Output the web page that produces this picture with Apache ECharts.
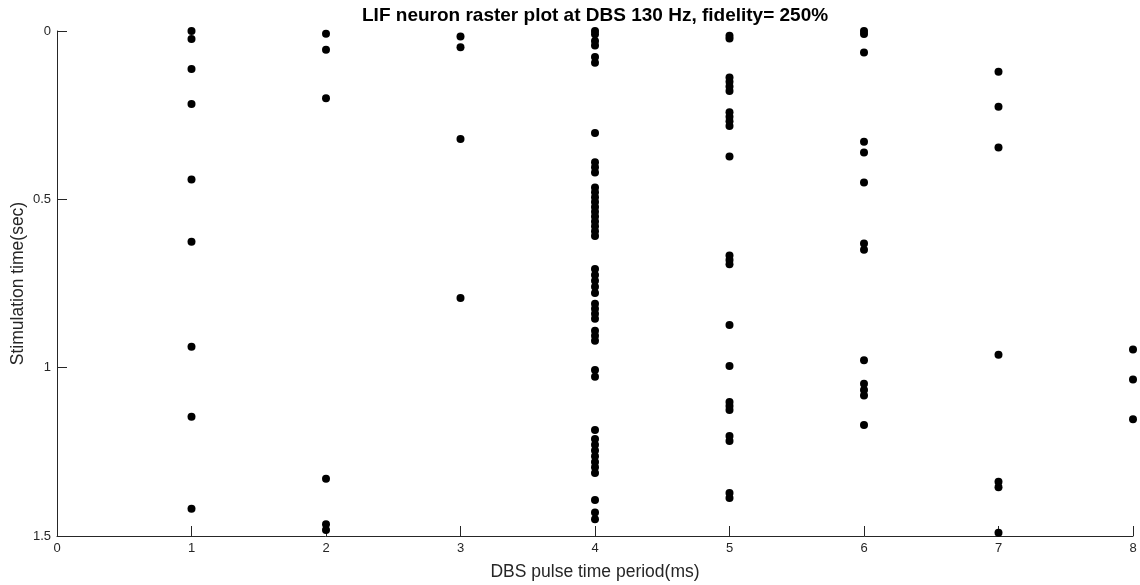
<!DOCTYPE html>
<html>
<head>
<meta charset="utf-8">
<title>LIF neuron raster plot</title>
<script src="https://cdn.jsdelivr.net/npm/echarts@6/dist/echarts.min.js"></script>
<style>
  html, body { margin: 0; padding: 0; background: #fff; }
  #chart { width: 1140px; height: 585px; }
</style>
</head>
<body>
<div id="chart"></div>
<script>
// Spike times (sec) for each DBS pulse time period (ms)
const periods = [1, 2, 3, 4, 5, 6, 7, 8];
const spikes1 = [0.0, 0.024, 0.113, 0.217, 0.441, 0.626, 0.938, 1.146, 1.419];
const spikes2 = [0.008, 0.056, 0.2, 1.33, 1.465, 1.482];
const spikes3 = [0.016, 0.048, 0.321, 0.793];
const spikes4 = [0.0, 0.01, 0.03, 0.043, 0.077, 0.094, 0.303,
  0.39, 0.405, 0.42,
  0.465, 0.479, 0.494, 0.508, 0.523, 0.537, 0.551, 0.566, 0.58, 0.595, 0.609,
  0.707, 0.725, 0.742, 0.76, 0.778,
  0.81, 0.825, 0.84, 0.855,
  0.89, 0.905, 0.92,
  1.007, 1.027, 1.185,
  1.212, 1.229, 1.246, 1.263, 1.28, 1.296, 1.313,
  1.393, 1.43, 1.45];
const spikes5 = [0.014, 0.022, 0.138, 0.151, 0.165, 0.178, 0.241, 0.255, 0.268, 0.282,
  0.373, 0.667, 0.68, 0.693, 0.873, 0.995, 1.102, 1.114, 1.126, 1.203, 1.218, 1.372, 1.387];
const spikes6 = [0.0, 0.009, 0.064, 0.329, 0.361, 0.45, 0.631, 0.65, 0.978, 1.048, 1.066, 1.083, 1.17];
const spikes7 = [0.121, 0.225, 0.346, 0.962, 1.339, 1.355, 1.49];
const spikes8 = [0.946, 1.035, 1.153];
const spikeTrains = [spikes1, spikes2, spikes3, spikes4, spikes5, spikes6, spikes7, spikes8];

const xTicks = [0, 1, 2, 3, 4, 5, 6, 7, 8];
const yTicks = [0, 0.5, 1, 1.5];

const points = [];
periods.forEach((p, i) => {
  spikeTrains[i].forEach(t => points.push([p, t]));
});

const axisColor = '#262626';
const font = '"Liberation Sans", Arial, Helvetica, sans-serif';

const chart = echarts.init(document.getElementById('chart'), null, { renderer: 'canvas' });
chart.setOption({
  animation: false,
  backgroundColor: '#ffffff',
  title: {
    text: 'LIF neuron raster plot at DBS 130 Hz, fidelity= 250%',
    left: 357,
    top: 1,
    textStyle: { fontFamily: font, fontSize: 19, fontWeight: 'bold', color: '#000' }
  },
  grid: { left: 57, right: 7, top: 31, bottom: 49, containLabel: false, outerBoundsMode: 'none' },
  xAxis: {
    type: 'value',
    position: 'bottom',
    min: xTicks[0],
    max: xTicks[xTicks.length - 1],
    interval: 1,
    name: 'DBS pulse time period(ms)',
    nameLocation: 'middle',
    nameGap: 27,
    nameTextStyle: { fontFamily: font, fontSize: 17.5, color: axisColor },
    axisLine: { show: true, onZero: false, lineStyle: { color: axisColor, width: 1 } },
    axisTick: { show: true, inside: true, length: 10, lineStyle: { color: axisColor } },
    axisLabel: { fontFamily: font, fontSize: 13, color: axisColor, margin: 6 },
    splitLine: { show: false }
  },
  yAxis: {
    type: 'value',
    position: 'left',
    inverse: true,
    min: yTicks[0],
    max: yTicks[yTicks.length - 1],
    interval: 0.5,
    name: 'Stimulation time(sec)',
    nameLocation: 'middle',
    nameGap: 30,
    nameRotate: 90,
    nameMoveOverlap: false,
    nameTextStyle: { fontFamily: font, fontSize: 17.5, color: axisColor },
    axisLine: { show: true, onZero: false, lineStyle: { color: axisColor, width: 1 } },
    axisTick: { show: true, inside: true, length: 10, lineStyle: { color: axisColor } },
    axisLabel: { fontFamily: font, fontSize: 13, color: axisColor, margin: 6 },
    splitLine: { show: false }
  },
  series: [{
    type: 'scatter',
    data: points,
    symbol: 'circle',
    symbolSize: 8,
    itemStyle: { color: '#000000', opacity: 1 },
    clip: false
  }]
});
</script>
</body>
</html>
